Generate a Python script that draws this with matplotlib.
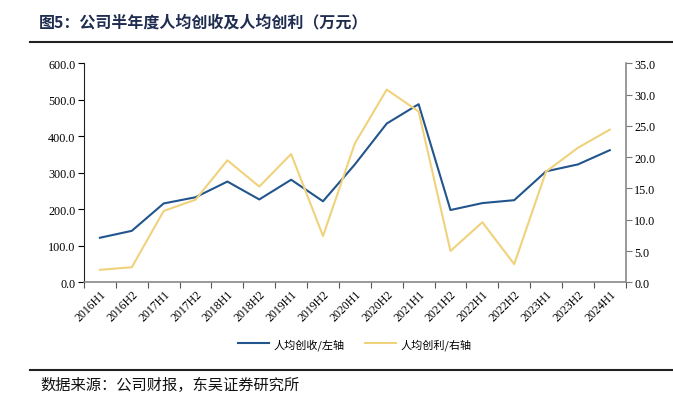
import matplotlib.pyplot as plt
from matplotlib.lines import Line2D
from matplotlib.ticker import FuncFormatter

plt.rcParams['font.family'] = ['Liberation Serif', 'Noto Sans CJK SC']

periodos = ['2016H1', '2016H2', '2017H1', '2017H2', '2018H1', '2018H2', '2019H1',
            '2019H2', '2020H1', '2020H2', '2021H1', '2021H2', '2022H1', '2022H2',
            '2023H1', '2023H2', '2024H1']
creacion_ingresos = [122, 141, 216, 233, 276, 227, 281, 222, 323, 435, 488, 198,
                     217, 225, 304, 323, 362]
creacion_beneficio = [2.0, 2.4, 11.4, 13.2, 19.5, 15.3, 20.5, 7.4, 22.2, 30.8, 27.3,
                      5.0, 9.6, 2.9, 17.7, 21.5, 24.4]

azul = '#22558c'
amarillo = '#f0d27c'
cjk = ['Noto Sans CJK SC', 'DejaVu Sans']

fig = plt.figure(figsize=(6.73, 4.02), dpi=100)
ax = fig.add_axes([0.1248, 0.2953, 0.805, 0.5447])
ax2 = ax.twinx()

x = list(range(len(periodos)))
ax.plot(x, creacion_ingresos, color=azul, linewidth=1.5)
ax2.plot(x, creacion_beneficio, color=amarillo, linewidth=1.5)

ax.set_xlim(-0.5, len(periodos) - 0.5)
ax.set_ylim(0, 600)
ax2.set_ylim(0, 35)
ax.set_yticks(range(0, 601, 100))
ax2.set_yticks([i * 5 for i in range(8)])
ax.yaxis.set_major_formatter(FuncFormatter(lambda v, p: f'{v:.1f}'))
ax2.yaxis.set_major_formatter(FuncFormatter(lambda v, p: f'{v:.1f}'))

# etiquetas en el centro, marcas entre categorias
ax.set_xticks(x)
ax.set_xticklabels(periodos, rotation=45, ha='right', rotation_mode='anchor', fontsize=8.5)
ax.set_xticks([i - 0.5 for i in range(len(periodos) + 1)], minor=True)
ax.tick_params(axis='x', which='major', length=0, pad=4)
ax.tick_params(axis='x', which='minor', length=4, width=0.8, color='#555555', direction='out')
ax.tick_params(axis='y', labelsize=8.7, length=4, width=0.8, direction='out', pad=2)
ax2.tick_params(axis='y', labelsize=8.7, length=4, width=0.8, direction='out', pad=2,
                color='#777777')

for a in (ax, ax2):
    a.spines['top'].set_visible(False)
ax.spines['right'].set_visible(False)
ax2.spines['left'].set_visible(False)
ax2.spines['bottom'].set_visible(False)
ax.spines['left'].set_color('#222222')
ax.spines['bottom'].set_color('#888888')
ax2.spines['right'].set_color('#888888')
ax.spines['bottom'].set_linewidth(1.2)
ax2.spines['right'].set_linewidth(1.2)

# leyenda
handles = [Line2D([], [], color=azul, linewidth=1.5),
           Line2D([], [], color=amarillo, linewidth=1.5)]
fig.legend(handles, ['人均创收/左轴', '人均创利/右轴'], loc='center',
           bbox_to_anchor=(0.527, 0.142), ncol=2, frameon=False,
           prop={'family': cjk, 'size': 8}, handlelength=2.8, handletextpad=0.4,
           columnspacing=1.8)

# titulo y fuente
fig.text(0.057, 0.945, '图5：公司半年度人均创收及人均创利（万元）', fontsize=11.5,
         fontweight='bold', color='#1f2d50', family=cjk, va='center')
fig.add_artist(Line2D([0.045, 1.0], [0.894, 0.894], color='#222222', linewidth=1.5))
fig.add_artist(Line2D([0.045, 1.0], [0.078, 0.078], color='#222222', linewidth=1.5))
fig.text(0.06, 0.042, '数据来源：公司财报，东吴证券研究所', fontsize=11, color='#111111',
         family=cjk, va='center')

fig.savefig('out.png', dpi=100)
plt.close()
